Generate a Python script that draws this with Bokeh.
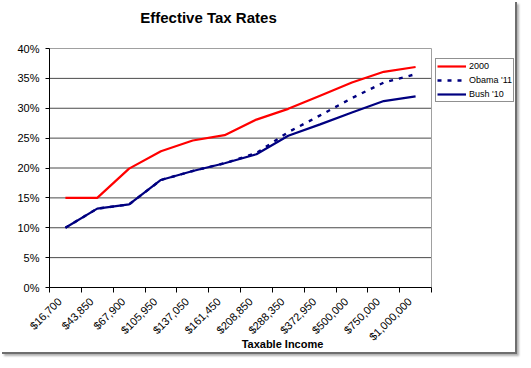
from bokeh.plotting import figure
from bokeh.models import (FixedTicker, PrintfTickFormatter, Range1d, Legend, LegendItem,
                          Label, ColumnDataSource)
from bokeh.embed import file_html
from bokeh.resources import INLINE
import math

# ---- data ----
incomes = ["$16,700", "$43,850", "$67,900", "$105,950", "$137,050", "$161,450",
           "$208,850", "$288,350", "$372,950", "$500,000", "$750,000", "$1,000,000"]
rate_2000 = [15.0, 15.0, 19.9, 22.8, 24.6, 25.5, 28.1, 29.9, 32.1, 34.3, 36.1, 36.9]
rate_obama11 = [10.0, 13.2, 13.9, 18.0, 19.5, 20.8, 22.5, 26.0, 28.8, 31.7, 34.3, 35.7]
rate_bush10 = [10.0, 13.2, 13.9, 18.0, 19.5, 20.8, 22.3, 25.4, 27.3, 29.3, 31.2, 32.0]
y_ticks = [0, 5, 10, 15, 20, 25, 30, 35, 40]
y_max = 40

n = len(incomes)
xs = [i + 0.5 for i in range(n)]
LABEL_SHIFT = 0.32
label_pos = [i + LABEL_SHIFT for i in range(n)]

FONT = "Liberation Sans"

# geometry: the frame covers the whole area right of the y axis and above the x axis;
# the drawn plot area is a sub-rectangle of it, title and legend sit in the rest
W, H = 515, 352
LEFT, BOTTOM = 49, 65
PLOT_W_PX = 382          # width of the plot area
PLOT_TOP_PX = 48         # top edge of the plot area from the top of the figure
FRAME_W = W - LEFT
FRAME_H = H - BOTTOM
x_end = n * FRAME_W / PLOT_W_PX
y_end = y_max * FRAME_H / (FRAME_H - PLOT_TOP_PX)

p = figure(width=W, height=H, output_backend="svg", toolbar_location=None,
           x_range=Range1d(0, x_end), y_range=Range1d(0, y_end),
           min_border_left=LEFT, min_border_right=0, min_border_top=0,
           min_border_bottom=BOTTOM)
p.styles = {"box-shadow": "2px 2px 0px #6e6e6e, 4px 4px 2px #b0b0b0"}

p.background_fill_color = "white"
p.border_fill_color = "white"
p.outline_line_color = None

# x axis
xa = p.xaxis[0]
xa.bounds = (0, n)
xa.ticker = FixedTicker(ticks=label_pos, minor_ticks=list(range(n + 1)))
xa.major_label_overrides = {v: lab for v, lab in zip(label_pos, incomes)}
xa.major_label_orientation = math.pi / 4
xa.major_tick_out = 0
xa.major_tick_in = 0
xa.minor_tick_out = 5
xa.minor_tick_in = 0
xa.minor_tick_line_color = "black"
xa.axis_line_color = "black"
xa.major_label_standoff = 7
xa.major_label_text_font = FONT
xa.major_label_text_font_size = "11px"
xa.major_label_text_color = "black"
xa.axis_label = "Taxable Income"
xa.axis_label_text_font = FONT
xa.axis_label_text_font_style = "bold"
xa.axis_label_text_font_size = "11px"
xa.axis_label_text_color = "black"
xa.axis_label_standoff = -12

# y axis
ya = p.yaxis[0]
ya.bounds = (0, y_max)
ya.ticker = FixedTicker(ticks=y_ticks)
ya.formatter = PrintfTickFormatter(format="%d%%")
ya.major_tick_out = 4
ya.major_tick_in = 0
ya.minor_tick_out = 0
ya.minor_tick_in = 0
ya.axis_line_color = "black"
ya.major_tick_line_color = "black"
ya.major_label_standoff = 6
ya.major_label_text_font = FONT
ya.major_label_text_font_size = "11px"
ya.major_label_text_color = "black"

p.xgrid.grid_line_color = None
p.ygrid.grid_line_color = None

# horizontal gridlines and plot-area border, limited to the plot area
inner = [t for t in y_ticks if 0 < t < y_max]
p.segment(x0=[0] * len(inner), x1=[n] * len(inner), y0=inner, y1=inner,
          line_color="#4a4a4a", line_width=1)
p.segment(x0=[0, n], x1=[n, n], y0=[y_max, 0], y1=[y_max, y_max],
          line_color="#a0a0a0", line_width=1)

src = ColumnDataSource(dict(x=xs, r2000=rate_2000, obama=rate_obama11, bush=rate_bush10))

r_bush = p.line("x", "bush", source=src, line_color="#000080", line_width=2.2)
r_obama = p.line("x", "obama", source=src, line_color="#000080", line_width=2.4,
                 line_dash="4 6")
r_2000 = p.line("x", "r2000", source=src, line_color="#ff0000", line_width=2.2)

legend = Legend(items=[LegendItem(label="2000", renderers=[r_2000]),
                       LegendItem(label="Obama '11", renderers=[r_obama]),
                       LegendItem(label="Bush '10", renderers=[r_bush])],
                location=(386, 185))
legend.label_text_font = FONT
legend.label_text_font_size = "9px"
legend.label_text_color = "black"
legend.glyph_width = 29
legend.glyph_height = 12
legend.label_height = 12
legend.label_standoff = 3
legend.spacing = 2
legend.padding = 1
legend.margin = 0
legend.border_line_color = "#222222"
legend.border_line_width = 1
legend.background_fill_color = "white"
legend.background_fill_alpha = 1
p.add_layout(legend)

title = Label(x=159, y=FRAME_H - 17, x_units="screen", y_units="screen",
              text="Effective Tax Rates", text_font=FONT, text_font_style="bold",
              text_font_size="15px", text_align="center", text_baseline="middle",
              text_color="black")
p.add_layout(title)

open("out.html", "w").write(file_html(p, INLINE))
